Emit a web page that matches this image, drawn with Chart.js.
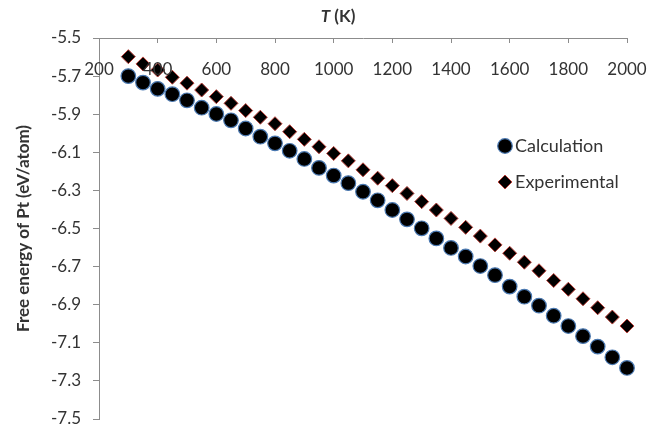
<!DOCTYPE html>
<html>
<head>
<meta charset="utf-8">
<script src="https://cdn.jsdelivr.net/npm/chart.js@4.4.1/dist/chart.umd.min.js"></script>
<style>
  html, body { margin: 0; padding: 0; background: #fff; }
  #wrap { width: 662px; height: 430px; }
</style>
</head>
<body>
<div id="wrap"><canvas id="freeChart" width="662" height="430"></canvas></div>
<script>
// temperatures (K)
const temps = [300, 350, 400, 450, 500, 550, 600, 650, 700, 750, 800, 850, 900, 950,
  1000, 1050, 1100, 1150, 1200, 1250, 1300, 1350, 1400, 1450, 1500, 1550, 1600,
  1650, 1700, 1750, 1800, 1850, 1900, 1950, 2000];

// free energy of Pt (eV/atom)
const calcValues = [-5.700, -5.734, -5.767, -5.795, -5.827, -5.866, -5.899, -5.932, -5.975,
  -6.018, -6.053, -6.092, -6.135, -6.182, -6.222, -6.262, -6.307, -6.352, -6.403,
  -6.452, -6.499, -6.552, -6.602, -6.647, -6.697, -6.745, -6.805, -6.858, -6.905,
  -6.958, -7.012, -7.065, -7.120, -7.176, -7.232];

const expValues = [-5.598, -5.636, -5.668, -5.706, -5.737, -5.773, -5.808, -5.843, -5.881,
  -5.916, -5.950, -5.992, -6.032, -6.071, -6.106, -6.145, -6.192, -6.236, -6.275,
  -6.316, -6.359, -6.403, -6.447, -6.494, -6.540, -6.586, -6.630, -6.677, -6.722,
  -6.773, -6.819, -6.869, -6.916, -6.965, -7.012];

const xTicks = [200, 400, 600, 800, 1000, 1200, 1400, 1600, 1800, 2000];
const seriesNames = ['Calculation', 'Experimental'];

const FONT = 'Lato, "Open Sans", sans-serif';
const AXIS = '#8c8c8c';
const TEXT = '#333333';

function toPoints(xs, ys) {
  return xs.map((x, i) => ({ x: x, y: ys[i] }));
}

// top axis labels, axis title and the legend sit inside the plot, so draw them here
const extras = {
  id: 'extras',
  afterDraw(chart) {
    const ctx = chart.ctx;
    const xs = chart.scales.x;
    const area = chart.chartArea;
    ctx.save();

    ctx.fillStyle = TEXT;
    ctx.font = '17px ' + FONT;
    ctx.textAlign = 'center';
    ctx.textBaseline = 'middle';
    xTicks.forEach(t => ctx.fillText(String(t), xs.getPixelForValue(t), area.top + 32));

    // T (K)
    ctx.textAlign = 'left';
    ctx.font = 'italic bold 17px ' + FONT;
    const tw = ctx.measureText('T').width;
    ctx.font = 'bold 17px ' + FONT;
    const kw = ctx.measureText(' (K)').width;
    const tx = 338 - (tw + kw) / 2;
    ctx.font = 'italic bold 17px ' + FONT;
    ctx.fillText('T', tx, 17);
    ctx.font = 'bold 17px ' + FONT;
    ctx.fillText(' (K)', tx + tw, 17);

    // legend
    const ds = chart.data.datasets;
    const lx = 505;
    const rows = [146, 182];
    ctx.font = '18px ' + FONT;
    rows.forEach((ly, i) => {
      const d = ds[i];
      ctx.fillStyle = d.pointBackgroundColor;
      ctx.strokeStyle = d.pointBorderColor;
      ctx.lineWidth = d.pointBorderWidth;
      ctx.beginPath();
      if (d.pointStyle === 'circle') {
        ctx.arc(lx, ly, d.pointRadius, 0, Math.PI * 2);
      } else {
        const r = d.pointRadius;
        ctx.moveTo(lx, ly - r); ctx.lineTo(lx + r, ly);
        ctx.lineTo(lx, ly + r); ctx.lineTo(lx - r, ly);
        ctx.closePath();
      }
      ctx.fill();
      ctx.stroke();
      ctx.fillStyle = TEXT;
      ctx.fillText(d.label, lx + 10, ly);
    });

    ctx.restore();
  }
};

new Chart(document.getElementById('freeChart'), {
  type: 'scatter',
  data: {
    datasets: [
      {
        label: seriesNames[0],
        data: toPoints(temps, calcValues),
        pointStyle: 'circle',
        pointRadius: 7.3,
        pointBackgroundColor: '#000000',
        pointBorderColor: '#4a78b0',
        pointBorderWidth: 1.2,
        clip: false
      },
      {
        label: seriesNames[1],
        data: toPoints(temps, expValues),
        pointStyle: 'rectRot',
        pointRadius: 7,
        pointBackgroundColor: '#000000',
        pointBorderColor: '#b8403a',
        pointBorderWidth: 1,
        clip: false
      }
    ]
  },
  options: {
    responsive: false,
    animation: false,
    layout: { padding: { left: 0, right: 35, top: 0, bottom: 11 } },
    plugins: {
      legend: { display: false },
      tooltip: { enabled: false }
    },
    scales: {
      x: {
        type: 'linear',
        position: 'top',
        min: 200,
        max: 2000,
        ticks: { display: false, stepSize: 200 },
        grid: { drawOnChartArea: false, tickLength: -5, color: AXIS },
        border: { color: AXIS, width: 1 },
        afterFit(scale) { scale.height = 38; }
      },
      y: {
        type: 'linear',
        position: 'left',
        min: -7.5,
        max: -5.5,
        ticks: {
          stepSize: 0.2,
          padding: 12,
          color: TEXT,
          font: { family: FONT, size: 17 },
          callback: v => v.toFixed(1)
        },
        grid: { drawOnChartArea: false, tickLength: 6, color: AXIS },
        border: { color: AXIS, width: 1 },
        title: {
          display: true,
          text: 'Free energy of Pt (eV/atom)',
          color: TEXT,
          font: { family: FONT, size: 17, weight: 'bold' },
          padding: { top: 13, bottom: 0 }
        },
        afterFit(scale) {
          scale.width = 99;
          scale.paddingTop = 0;
          scale.paddingBottom = 0;
        }
      }
    }
  },
  plugins: [extras]
});
</script>
</body>
</html>
